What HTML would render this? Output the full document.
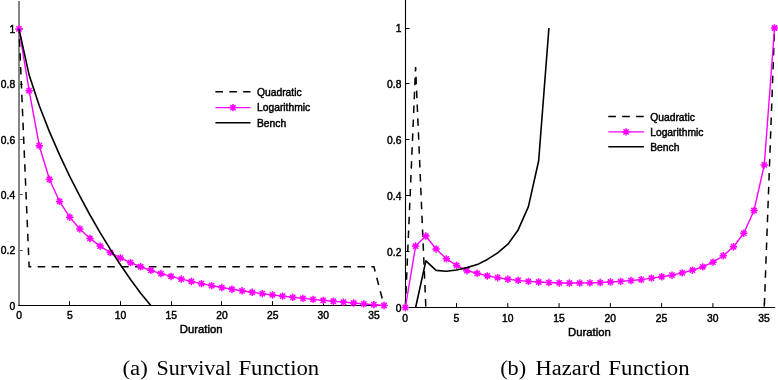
<!DOCTYPE html>
<html><head><meta charset="utf-8"><title>Survival and Hazard</title>
<style>
html,body{margin:0;padding:0;background:#fff;}
body{width:778px;height:380px;overflow:hidden;position:relative;font-family:"Liberation Sans",sans-serif;}
</style></head><body>
<svg width="778" height="380" viewBox="0 0 778 380" style="position:absolute;left:0;top:0;will-change:transform">
<g fill="none">
<path d="M19.0 1V306" stroke="#707070" stroke-width="1.7"/>
<path d="M18.3 305.5H384.6" stroke="#000" stroke-width="1.1"/>
<path d="M405.5 0V308" stroke="#000" stroke-width="1.1"/>
<path d="M405 307.5H775.2" stroke="#000" stroke-width="1.1"/>
<path d="M69.50 305.5v-4.4M456.52 307.5v-4.4M120.50 305.5v-4.4M507.80 307.5v-4.4M171.50 305.5v-4.4M559.08 307.5v-4.4M221.50 305.5v-4.4M610.35 307.5v-4.4M272.50 305.5v-4.4M661.62 307.5v-4.4M323.50 305.5v-4.4M712.90 307.5v-4.4M373.50 305.5v-4.4M764.18 307.5v-4.4M405.5 251.50h4.0M405.5 195.50h4.0M405.5 139.50h4.0M405.5 83.50h4.0M405.5 28.50h4.0" stroke="#000" stroke-width="1"/>
<path d="M19.8 250.50h3.0M19.8 194.50h3.0M19.8 139.50h3.0M19.8 84.50h3.0M19.8 28.50h3.0" stroke="#555" stroke-width="1"/>
<path d="M19.00 28.90 L29.14 266.78 L373.90 266.78 L384.04 305.50" stroke="#000" stroke-width="1.5" stroke-dasharray="7.5 6.4" stroke-dashoffset="3.5"/>
<path d="M405.35 307.50 L415.61 67.13 L425.86 307.50" stroke="#000" stroke-width="1.5" stroke-dasharray="7.5 6.4" stroke-dashoffset="0.0"/>
<path d="M764.28 307.50 L774.53 28.00" stroke="#000" stroke-width="1.5" stroke-dasharray="7.5 6.4" stroke-dashoffset="11.9"/>
<path d="M19.00 28.90 L29.14 90.66 L39.28 145.69 L49.42 179.32 L59.56 201.42 L69.70 217.22 L79.84 228.96 L89.98 238.43 L100.12 246.09 L110.26 252.52 L120.40 257.96 L130.54 262.65 L140.68 266.74 L150.82 270.35 L160.96 273.56 L171.10 276.44 L181.24 279.06 L191.38 281.44 L201.52 283.63 L211.66 285.66 L221.80 287.54 L231.94 289.23 L242.08 290.81 L252.22 292.27 L262.36 293.66 L272.50 294.95 L282.64 296.16 L292.78 297.30 L302.92 298.37 L313.06 299.38 L323.20 300.33 L333.34 301.25 L343.48 302.12 L353.62 303.02 L363.76 303.88 L373.90 304.71 L384.04 305.50" stroke="#f0f" stroke-width="1.4" stroke-linejoin="round"/>
<path d="M15.30 28.90h7.40M19.00 25.20v7.40M16.38 26.28l5.23 5.23M16.38 31.52l5.23 -5.23M25.44 90.66h7.40M29.14 86.96v7.40M26.52 88.05l5.23 5.23M26.52 93.28l5.23 -5.23M35.58 145.69h7.40M39.28 141.99v7.40M36.66 143.07l5.23 5.23M36.66 148.30l5.23 -5.23M45.72 179.32h7.40M49.42 175.62v7.40M46.80 176.71l5.23 5.23M46.80 181.94l5.23 -5.23M55.86 201.42h7.40M59.56 197.72v7.40M56.94 198.81l5.23 5.23M56.94 204.04l5.23 -5.23M66.00 217.22h7.40M69.70 213.52v7.40M67.08 214.61l5.23 5.23M67.08 219.84l5.23 -5.23M76.14 228.96h7.40M79.84 225.26v7.40M77.22 226.34l5.23 5.23M77.22 231.57l5.23 -5.23M86.28 238.43h7.40M89.98 234.73v7.40M87.36 235.81l5.23 5.23M87.36 241.04l5.23 -5.23M96.42 246.09h7.40M100.12 242.39v7.40M97.50 243.48l5.23 5.23M97.50 248.71l5.23 -5.23M106.56 252.52h7.40M110.26 248.82v7.40M107.64 249.91l5.23 5.23M107.64 255.14l5.23 -5.23M116.70 257.96h7.40M120.40 254.26v7.40M117.78 255.35l5.23 5.23M117.78 260.58l5.23 -5.23M126.84 262.65h7.40M130.54 258.95v7.40M127.92 260.03l5.23 5.23M127.92 265.26l5.23 -5.23M136.98 266.74h7.40M140.68 263.04v7.40M138.06 264.12l5.23 5.23M138.06 269.35l5.23 -5.23M147.12 270.35h7.40M150.82 266.65v7.40M148.20 267.73l5.23 5.23M148.20 272.96l5.23 -5.23M157.26 273.56h7.40M160.96 269.86v7.40M158.34 270.94l5.23 5.23M158.34 276.18l5.23 -5.23M167.40 276.44h7.40M171.10 272.74v7.40M168.48 273.83l5.23 5.23M168.48 279.06l5.23 -5.23M177.54 279.06h7.40M181.24 275.36v7.40M178.62 276.44l5.23 5.23M178.62 281.67l5.23 -5.23M187.68 281.44h7.40M191.38 277.74v7.40M188.76 278.83l5.23 5.23M188.76 284.06l5.23 -5.23M197.82 283.63h7.40M201.52 279.93v7.40M198.90 281.02l5.23 5.23M198.90 286.25l5.23 -5.23M207.96 285.66h7.40M211.66 281.96v7.40M209.04 283.04l5.23 5.23M209.04 288.28l5.23 -5.23M218.10 287.54h7.40M221.80 283.84v7.40M219.18 284.93l5.23 5.23M219.18 290.16l5.23 -5.23M228.24 289.23h7.40M231.94 285.53v7.40M229.32 286.62l5.23 5.23M229.32 291.85l5.23 -5.23M238.38 290.81h7.40M242.08 287.11v7.40M239.46 288.19l5.23 5.23M239.46 293.42l5.23 -5.23M248.52 292.27h7.40M252.22 288.57v7.40M249.60 289.65l5.23 5.23M249.60 294.89l5.23 -5.23M258.66 293.66h7.40M262.36 289.96v7.40M259.74 291.04l5.23 5.23M259.74 296.27l5.23 -5.23M268.80 294.95h7.40M272.50 291.25v7.40M269.88 292.33l5.23 5.23M269.88 297.57l5.23 -5.23M278.94 296.16h7.40M282.64 292.46v7.40M280.02 293.54l5.23 5.23M280.02 298.77l5.23 -5.23M289.08 297.30h7.40M292.78 293.60v7.40M290.16 294.68l5.23 5.23M290.16 299.91l5.23 -5.23M299.22 298.37h7.40M302.92 294.67v7.40M300.30 295.75l5.23 5.23M300.30 300.99l5.23 -5.23M309.36 299.38h7.40M313.06 295.68v7.40M310.44 296.76l5.23 5.23M310.44 301.99l5.23 -5.23M319.50 300.33h7.40M323.20 296.63v7.40M320.58 297.72l5.23 5.23M320.58 302.95l5.23 -5.23M329.64 301.25h7.40M333.34 297.55v7.40M330.72 298.63l5.23 5.23M330.72 303.86l5.23 -5.23M339.78 302.12h7.40M343.48 298.42v7.40M340.86 299.50l5.23 5.23M340.86 304.73l5.23 -5.23M349.92 303.02h7.40M353.62 299.32v7.40M351.00 300.40l5.23 5.23M351.00 305.63l5.23 -5.23M360.06 303.88h7.40M363.76 300.18v7.40M361.14 301.26l5.23 5.23M361.14 306.49l5.23 -5.23M370.20 304.71h7.40M373.90 301.01v7.40M371.28 302.09l5.23 5.23M371.28 307.32l5.23 -5.23M380.34 305.50h7.40M384.04 301.80v7.40M381.42 302.88l5.23 5.23M381.42 308.12l5.23 -5.23" stroke="#f0f" stroke-width="1.5"/>
<path d="M405.35 307.50 L415.61 246.07 L425.86 236.06 L436.12 248.97 L446.37 258.87 L456.62 265.41 L466.88 270.69 L477.14 273.29 L487.39 275.94 L497.65 277.68 L507.90 279.24 L518.15 280.42 L528.41 281.34 L538.66 282.01 L548.92 282.54 L559.18 282.93 L569.43 283.04 L579.69 283.04 L589.94 282.90 L600.20 282.54 L610.45 282.01 L620.71 281.34 L630.96 280.56 L641.22 279.63 L651.47 278.15 L661.73 276.75 L671.98 275.19 L682.24 272.84 L692.49 270.21 L702.75 266.89 L713.00 262.14 L723.26 255.76 L733.51 246.74 L743.77 233.21 L754.02 210.51 L764.28 164.95 L774.53 28.00" stroke="#f0f" stroke-width="1.4" stroke-linejoin="round"/>
<path d="M401.65 307.50h7.40M405.35 303.80v7.40M402.73 304.88l5.23 5.23M402.73 310.12l5.23 -5.23M411.91 246.07h7.40M415.61 242.37v7.40M412.99 243.45l5.23 5.23M412.99 248.68l5.23 -5.23M422.16 236.06h7.40M425.86 232.36v7.40M423.24 233.44l5.23 5.23M423.24 238.68l5.23 -5.23M432.42 248.97h7.40M436.12 245.27v7.40M433.50 246.36l5.23 5.23M433.50 251.59l5.23 -5.23M442.67 258.87h7.40M446.37 255.17v7.40M443.75 256.25l5.23 5.23M443.75 261.48l5.23 -5.23M452.93 265.41h7.40M456.62 261.71v7.40M454.01 262.79l5.23 5.23M454.01 268.02l5.23 -5.23M463.18 270.69h7.40M466.88 266.99v7.40M464.26 268.07l5.23 5.23M464.26 273.31l5.23 -5.23M473.44 273.29h7.40M477.14 269.59v7.40M474.52 270.67l5.23 5.23M474.52 275.91l5.23 -5.23M483.69 275.94h7.40M487.39 272.24v7.40M484.77 273.33l5.23 5.23M484.77 278.56l5.23 -5.23M493.95 277.68h7.40M497.65 273.98v7.40M495.03 275.06l5.23 5.23M495.03 280.29l5.23 -5.23M504.20 279.24h7.40M507.90 275.54v7.40M505.28 276.63l5.23 5.23M505.28 281.86l5.23 -5.23M514.45 280.42h7.40M518.15 276.72v7.40M515.54 277.80l5.23 5.23M515.54 283.03l5.23 -5.23M524.71 281.34h7.40M528.41 277.64v7.40M525.79 278.72l5.23 5.23M525.79 283.96l5.23 -5.23M534.96 282.01h7.40M538.66 278.31v7.40M536.05 279.39l5.23 5.23M536.05 284.63l5.23 -5.23M545.22 282.54h7.40M548.92 278.84v7.40M546.30 279.92l5.23 5.23M546.30 285.16l5.23 -5.23M555.48 282.93h7.40M559.18 279.23v7.40M556.56 280.32l5.23 5.23M556.56 285.55l5.23 -5.23M565.73 283.04h7.40M569.43 279.34v7.40M566.81 280.43l5.23 5.23M566.81 285.66l5.23 -5.23M575.99 283.04h7.40M579.69 279.34v7.40M577.07 280.43l5.23 5.23M577.07 285.66l5.23 -5.23M586.24 282.90h7.40M589.94 279.20v7.40M587.32 280.29l5.23 5.23M587.32 285.52l5.23 -5.23M596.50 282.54h7.40M600.20 278.84v7.40M597.58 279.92l5.23 5.23M597.58 285.16l5.23 -5.23M606.75 282.01h7.40M610.45 278.31v7.40M607.83 279.39l5.23 5.23M607.83 284.63l5.23 -5.23M617.00 281.34h7.40M620.71 277.64v7.40M618.09 278.72l5.23 5.23M618.09 283.96l5.23 -5.23M627.26 280.56h7.40M630.96 276.86v7.40M628.34 277.94l5.23 5.23M628.34 283.17l5.23 -5.23M637.51 279.63h7.40M641.22 275.93v7.40M638.60 277.02l5.23 5.23M638.60 282.25l5.23 -5.23M647.77 278.15h7.40M651.47 274.45v7.40M648.85 275.54l5.23 5.23M648.85 280.77l5.23 -5.23M658.02 276.75h7.40M661.73 273.06v7.40M659.11 274.14l5.23 5.23M659.11 279.37l5.23 -5.23M668.28 275.19h7.40M671.98 271.49v7.40M669.36 272.57l5.23 5.23M669.36 277.81l5.23 -5.23M678.54 272.84h7.40M682.24 269.14v7.40M679.62 270.23l5.23 5.23M679.62 275.46l5.23 -5.23M688.79 270.21h7.40M692.49 266.51v7.40M689.87 267.60l5.23 5.23M689.87 272.83l5.23 -5.23M699.05 266.89h7.40M702.75 263.19v7.40M700.13 264.27l5.23 5.23M700.13 269.50l5.23 -5.23M709.30 262.14h7.40M713.00 258.44v7.40M710.38 259.52l5.23 5.23M710.38 264.75l5.23 -5.23M719.56 255.76h7.40M723.26 252.06v7.40M720.64 253.15l5.23 5.23M720.64 258.38l5.23 -5.23M729.81 246.74h7.40M733.51 243.04v7.40M730.89 244.12l5.23 5.23M730.89 249.35l5.23 -5.23M740.07 233.21h7.40M743.77 229.51v7.40M741.15 230.59l5.23 5.23M741.15 235.83l5.23 -5.23M750.32 210.51h7.40M754.02 206.81v7.40M751.40 207.90l5.23 5.23M751.40 213.13l5.23 -5.23M760.58 164.95h7.40M764.28 161.25v7.40M761.66 162.34l5.23 5.23M761.66 167.57l5.23 -5.23M770.83 28.00h7.40M774.53 24.30v7.40M771.91 25.38l5.23 5.23M771.91 30.62l5.23 -5.23" stroke="#f0f" stroke-width="1.5"/>
<path d="M19.00 28.90 L29.14 75.09 L39.28 105.74 L49.42 131.61 L59.56 154.91 L69.70 176.38 L79.84 196.20 L89.98 215.00 L100.12 232.69 L110.26 249.18 L120.40 264.81 L130.54 279.50 L140.68 293.15 L150.82 305.50" stroke="#000" stroke-width="1.6" stroke-linejoin="round"/>
<path d="M415.61 307.50 L425.86 260.82 L436.12 270.33 L446.37 271.30 L456.62 270.05 L466.88 267.64 L477.14 264.60 L487.39 259.43 L497.65 252.86 L507.90 244.19 L518.15 229.94 L528.41 206.60 L538.66 160.76 L548.92 28.00" stroke="#000" stroke-width="1.6" stroke-linejoin="round"/>
<path d="M215.4 91.8H250.5" stroke="#000" stroke-width="1.5" stroke-dasharray="7.6 6.3"/>
<path d="M215.4 107.6H250.5" stroke="#f0f" stroke-width="1.4"/>
<path d="M229.25 107.60h7.40M232.95 103.90v7.40M230.33 104.98l5.23 5.23M230.33 110.22l5.23 -5.23" stroke="#f0f" stroke-width="1.5"/>
<path d="M215.4 122.8H250.5" stroke="#000" stroke-width="1.5"/>
<path d="M608.3 116.6H643.9" stroke="#000" stroke-width="1.5" stroke-dasharray="7.6 6.3"/>
<path d="M608.3 131.9H643.9" stroke="#f0f" stroke-width="1.4"/>
<path d="M622.40 131.90h7.40M626.10 128.20v7.40M623.48 129.28l5.23 5.23M623.48 134.52l5.23 -5.23" stroke="#f0f" stroke-width="1.5"/>
<path d="M608.3 146.8H643.9" stroke="#000" stroke-width="1.5"/>
</g>
<g font-family="Liberation Sans, sans-serif" font-size="10.3" fill="#000" stroke="#000" stroke-width="0.45" style="opacity:0.999">
<text x="19.15" y="319.2" text-anchor="middle">0</text>
<text x="405.10" y="321.5" text-anchor="middle">0</text>
<text x="69.85" y="319.2" text-anchor="middle">5</text>
<text x="456.38" y="321.5" text-anchor="middle">5</text>
<text x="120.55" y="319.2" text-anchor="middle">10</text>
<text x="507.65" y="321.5" text-anchor="middle">10</text>
<text x="171.25" y="319.2" text-anchor="middle">15</text>
<text x="558.93" y="321.5" text-anchor="middle">15</text>
<text x="221.95" y="319.2" text-anchor="middle">20</text>
<text x="610.20" y="321.5" text-anchor="middle">20</text>
<text x="272.65" y="319.2" text-anchor="middle">25</text>
<text x="661.48" y="321.5" text-anchor="middle">25</text>
<text x="323.35" y="319.2" text-anchor="middle">30</text>
<text x="712.75" y="321.5" text-anchor="middle">30</text>
<text x="374.05" y="319.2" text-anchor="middle">35</text>
<text x="764.03" y="321.5" text-anchor="middle">35</text>
<text x="15.2" y="309.60" text-anchor="end">0</text>
<text x="401.4" y="311.60" text-anchor="end">0</text>
<text x="15.2" y="254.28" text-anchor="end">0.2</text>
<text x="401.4" y="255.70" text-anchor="end">0.2</text>
<text x="15.2" y="198.96" text-anchor="end">0.4</text>
<text x="401.4" y="199.80" text-anchor="end">0.4</text>
<text x="15.2" y="143.64" text-anchor="end">0.6</text>
<text x="401.4" y="143.90" text-anchor="end">0.6</text>
<text x="15.2" y="88.32" text-anchor="end">0.8</text>
<text x="401.4" y="88.00" text-anchor="end">0.8</text>
<text x="15.2" y="33.00" text-anchor="end">1</text>
<text x="401.4" y="32.10" text-anchor="end">1</text>
<text x="179.7" y="333.4" font-size="11.35">Duration</text>
<text x="568.0" y="335.5" font-size="11.35">Duration</text>
<text x="257.0" y="96.0">Quadratic</text>
<text x="257.0" y="111.4">Logarithmic</text>
<text x="257.0" y="126.6">Bench</text>
<text x="650.2" y="120.7">Quadratic</text>
<text x="650.2" y="136.0">Logarithmic</text>
<text x="650.2" y="150.9">Bench</text>
</g>
<g font-family="Liberation Serif, serif" font-size="20" fill="#000" style="opacity:0.999">
<text x="122.5" y="375.1" textLength="25.4" lengthAdjust="spacingAndGlyphs">(a)</text>
<text x="156.5" y="375.1" textLength="74.8" lengthAdjust="spacingAndGlyphs">Survival</text>
<text x="238.4" y="375.1" textLength="80.8" lengthAdjust="spacingAndGlyphs">Function</text>
<text x="500.2" y="375.1" textLength="26.0" lengthAdjust="spacingAndGlyphs">(b)</text>
<text x="535.6" y="375.1" textLength="64.8" lengthAdjust="spacingAndGlyphs">Hazard</text>
<text x="608.3" y="375.1" textLength="81.3" lengthAdjust="spacingAndGlyphs">Function</text>
</g>
</svg>
</body></html>
